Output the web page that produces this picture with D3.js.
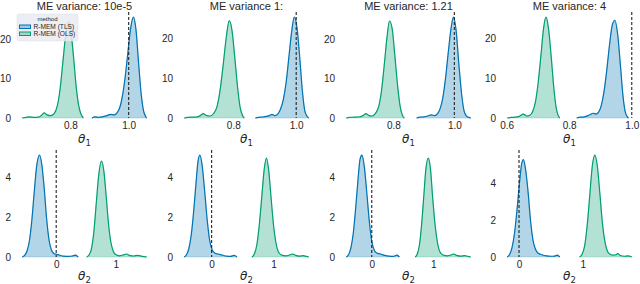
<!DOCTYPE html>
<html>
<head>
<meta charset="utf-8">
<style>
  body { margin: 0; background: #fff; }
  text { font-family: "Liberation Sans", Arial, sans-serif; fill: #262626; }
</style>
</head>
<body>
<div id="chart"></div>

<script src="https://cdn.jsdelivr.net/npm/d3@7"></script>
<script>
// panel titles and true parameter values
var titles = ["ME variance: 10e-5", "ME variance 1:", "ME variance: 1.21", "ME variance: 4"]
var methods = ["R-MEM (TLS)", "R-MEM (OLS)"]
var trueTheta = [1.0, 0.0]
var xTicksTop = [[0.8, 1.0], [0.8, 1.0], [0.8, 1.0], [0.6, 0.8, 1.0]]
var xTicksBottom = [0, 1]
var yTicksTop = [0, 10, 20]
var yTicksBottom = [0, 2, 4]

// density curves: [theta, density]
// theta_1, TLS
var tls1_a = [[0.874,0],[0.885,0.3],[0.897,0.15],[0.91,0.3],[0.925,0.6],[0.938,0.9],[0.95,0.8],[0.96,1.3],[0.97,2.8],[0.979,5.8],[0.988,10.5],[0.997,16.5],[1.006,22.5],[1.016,25.7],[1.025,22.5],[1.034,14],[1.043,6],[1.051,1.8],[1.058,0.4],[1.062,0]]
var tls1_b = [[0.87,0],[0.88,0.15],[0.893,0.25],[0.905,0.4],[0.915,0.6],[0.923,0.9],[0.932,0.6],[0.941,1],[0.95,2.2],[0.959,4.6],[0.968,9],[0.977,15.5],[0.986,22],[0.994,25.4],[1.003,22.5],[1.012,14.5],[1.02,6.5],[1.027,2],[1.034,0.5],[1.04,0]]
var tls1_c = [[0.876,0],[0.888,0.2],[0.9,0.3],[0.912,0.5],[0.924,0.8],[0.935,0.6],[0.945,1.1],[0.953,2.3],[0.962,5],[0.971,10],[0.98,16.5],[0.989,22.5],[0.997,25.5],[1.006,22],[1.015,13.5],[1.024,6],[1.032,1.8],[1.04,0.5],[1.047,0.15],[1.054,0]]
var tls1_d = [[0.824,0],[0.836,0.2],[0.848,0.3],[0.86,0.6],[0.868,0.9],[0.876,1.2],[0.885,1.0],[0.894,1.5],[0.902,3],[0.911,6.5],[0.92,12],[0.929,18.5],[0.938,23.5],[0.946,24.6],[0.955,21],[0.964,13],[0.972,5.5],[0.979,1.6],[0.985,0.4],[0.99,0]]
// theta_1, OLS
var ols1_a = [[0.635,0],[0.648,0.15],[0.66,0.3],[0.675,0.15],[0.69,0.2],[0.70,0.6],[0.71,1.3],[0.72,0.8],[0.732,0.6],[0.745,1.2],[0.755,3],[0.765,7.5],[0.774,14],[0.783,20.5],[0.793,24.5],[0.802,22],[0.811,15.5],[0.82,8],[0.829,3],[0.837,0.9],[0.845,0]]
var ols1_b = [[0.644,0],[0.655,0.15],[0.668,0.2],[0.68,0.2],[0.695,0.6],[0.704,1.1],[0.713,0.7],[0.725,0.5],[0.738,1.2],[0.748,2.8],[0.758,7],[0.768,13.5],[0.778,20.5],[0.787,24.5],[0.796,22],[0.805,15],[0.814,7.5],[0.822,2.6],[0.829,0.7],[0.835,0]]
var ols1_c = [[0.645,0],[0.656,0.15],[0.67,0.2],[0.685,0.25],[0.70,0.6],[0.71,1.1],[0.72,0.6],[0.73,0.5],[0.742,1.3],[0.752,3],[0.761,7],[0.77,13.5],[0.779,20.5],[0.787,24.5],[0.796,22.5],[0.805,15.5],[0.814,8],[0.822,3],[0.829,0.8],[0.836,0]]
var ols1_d = [[0.602,0],[0.615,0.15],[0.628,0.2],[0.64,0.4],[0.654,1.0],[0.664,0.5],[0.674,0.7],[0.683,1.6],[0.692,4],[0.701,9],[0.71,16],[0.718,22.5],[0.726,25.4],[0.734,22.5],[0.743,15],[0.751,7.5],[0.758,2.8],[0.764,0.8],[0.77,0]]
// theta_2, TLS
var tls2_a = [[-0.57,0],[-0.53,0.08],[-0.49,0.3],[-0.45,0.8],[-0.41,1.8],[-0.37,3.2],[-0.33,4.5],[-0.28,5.1],[-0.24,4.6],[-0.20,3.4],[-0.16,1.9],[-0.12,0.85],[-0.08,0.35],[-0.04,0.18],[0.0,0.14],[0.05,0.1],[0.12,0.04],[0.2,0.03],[0.27,0.05],[0.32,0.09],[0.37,0]]
var tls2_b = [[-0.443,0],[-0.41,0.1],[-0.37,0.4],[-0.33,1.1],[-0.29,2.3],[-0.25,3.8],[-0.22,4.8],[-0.19,5.1],[-0.15,4.5],[-0.11,3.2],[-0.07,1.8],[-0.03,0.8],[0.01,0.35],[0.05,0.2],[0.1,0.15],[0.17,0.1],[0.24,0.04],[0.31,0.03],[0.36,0.08],[0.41,0]]
var tls2_c = [[-0.415,0],[-0.38,0.1],[-0.34,0.45],[-0.30,1.2],[-0.26,2.5],[-0.22,4.0],[-0.19,4.9],[-0.16,5.1],[-0.12,4.5],[-0.08,3.2],[-0.04,1.8],[0.0,0.8],[0.04,0.35],[0.08,0.2],[0.14,0.15],[0.21,0.08],[0.28,0.04],[0.35,0.03],[0.41,0.09],[0.45,0]]
var tls2_d = [[-0.185,0],[-0.15,0.12],[-0.11,0.5],[-0.07,1.3],[-0.03,2.6],[0.01,4.1],[0.04,5.0],[0.068,5.26],[0.1,4.8],[0.14,3.6],[0.18,2.0],[0.22,0.9],[0.26,0.4],[0.3,0.2],[0.36,0.12],[0.43,0.06],[0.5,0.04],[0.56,0.05],[0.6,0.1],[0.64,0]]
// theta_2, OLS
var ols2_a = [[0.51,0],[0.55,0.1],[0.59,0.4],[0.63,1.2],[0.67,2.6],[0.71,4.0],[0.76,4.8],[0.80,4.3],[0.84,3.0],[0.88,1.6],[0.92,0.7],[0.96,0.28],[1.0,0.12],[1.06,0.06],[1.12,0.1],[1.18,0.15],[1.23,0.08],[1.3,0.05],[1.37,0.08],[1.44,0.03],[1.52,0]]
var ols2_b = [[0.65,0],[0.69,0.15],[0.73,0.6],[0.77,1.6],[0.81,3.0],[0.85,4.4],[0.885,4.95],[0.92,4.4],[0.96,3.0],[1.0,1.6],[1.04,0.7],[1.08,0.25],[1.13,0.1],[1.2,0.06],[1.26,0.1],[1.31,0.15],[1.36,0.08],[1.42,0.04],[1.48,0.07],[1.53,0.03],[1.57,0]]
var ols2_c = [[0.705,0],[0.74,0.15],[0.775,0.6],[0.81,1.6],[0.845,3.0],[0.88,4.4],[0.92,4.95],[0.955,4.4],[0.99,3.0],[1.03,1.6],[1.07,0.7],[1.11,0.25],[1.16,0.1],[1.23,0.06],[1.29,0.1],[1.33,0.15],[1.38,0.08],[1.45,0.04],[1.51,0.07],[1.56,0.03],[1.61,0]]
var ols2_d = [[0.95,0],[0.99,0.15],[1.03,0.6],[1.07,1.7],[1.11,3.3],[1.15,4.9],[1.19,5.5],[1.23,4.9],[1.27,3.4],[1.31,1.8],[1.35,0.8],[1.39,0.3],[1.43,0.15],[1.48,0.1],[1.52,0.12],[1.55,0.18],[1.59,0.08],[1.65,0.04],[1.71,0.06],[1.77,0]]

var tlsRows = [[tls1_a, tls1_b, tls1_c, tls1_d], [tls2_a, tls2_b, tls2_c, tls2_d]]
var olsRows = [[ols1_a, ols1_b, ols1_c, ols1_d], [ols2_a, ols2_b, ols2_c, ols2_d]]

var colors = ["#0173b2", "#029e73"]

var width = 640, height = 284
var colLeft = [16, 178, 340, 501], colW = 137
var rows = [{top: 12, bottom: 118, lab: 25}, {top: 150, bottom: 257, lab: 23}]

var svg = d3.select("#chart").append("svg")
  .attr("width", width).attr("height", height)

function drawKde(g, data, x, y, color) {
  var area = d3.area().x(d => x(d[0])).y0(y(0)).y1(d => y(d[1])).curve(d3.curveMonotoneX)
  var line = d3.line().x(d => x(d[0])).y(d => y(d[1])).curve(d3.curveMonotoneX)
  g.append("path").datum(data)
    .attr("d", area)
    .attr("fill", color).attr("fill-opacity", 0.3)
    .attr("stroke", color).attr("stroke-opacity", 0.2).attr("stroke-width", 1)
  g.append("path").datum(data)
    .attr("d", line)
    .attr("fill", "none").attr("stroke", color).attr("stroke-width", 1.2)
}

function drawPanel(r, c) {
  var tls = tlsRows[r][c], ols = olsRows[r][c]
  var pLeft = colLeft[c], pTop = rows[r].top, pBottom = rows[r].bottom

  // matplotlib-like autoscale: data extent (incl. true value) + 5% margins
  var xs = tls.concat(ols).map(d => d[0]).concat([trueTheta[r]])
  var ext = d3.extent(xs), pad = (ext[1] - ext[0]) * 0.05
  var x = d3.scaleLinear().domain([ext[0] - pad, ext[1] + pad]).range([pLeft, pLeft + colW])
  var ymax = d3.max(tls.concat(ols), d => d[1]) * 1.05
  var y = d3.scaleLinear().domain([0, ymax]).range([pBottom, pTop])

  var g = svg.append("g")

  drawKde(g, tls, x, y, colors[0])
  drawKde(g, ols, x, y, colors[1])

  // true value
  g.append("line")
    .attr("x1", x(trueTheta[r])).attr("x2", x(trueTheta[r]))
    .attr("y1", pTop).attr("y2", pBottom)
    .attr("stroke", "#222").attr("stroke-width", 1.1).attr("stroke-dasharray", "3,2")

  // axes
  var xAxis = d3.axisBottom(x).tickSize(0).tickPadding(4)
  if (r == 0) xAxis.tickValues(xTicksTop[c]).tickFormat(d3.format(".1f"))
  else xAxis.tickValues(xTicksBottom).tickFormat(d3.format("d"))
  var gx = g.append("g").attr("transform", "translate(0," + pBottom + ")").call(xAxis)
  var yAxis = d3.axisLeft(y).tickSize(0).tickPadding(5)
    .tickValues(r == 0 ? yTicksTop : yTicksBottom).tickFormat(d3.format("d"))
  var gy = g.append("g").attr("transform", "translate(" + pLeft + ",0)").call(yAxis)
  ;[gx, gy].forEach(function(a) {
    a.select(".domain").remove()
    a.attr("font-family", "Liberation Sans, Arial, sans-serif").attr("font-size", 10).style("color", "#262626")
  })

  // axis label theta_1 / theta_2
  var lab = g.append("text")
    .attr("x", pLeft + colW / 2).attr("y", pBottom + rows[r].lab)
    .attr("text-anchor", "middle")
    .style("font-family", "DejaVu Sans").style("font-size", "12px")
  lab.append("tspan").style("font-style", "italic").text("θ")
  lab.append("tspan").attr("dy", 3).style("font-size", "8.5px").text(r == 0 ? "1" : "2")

  if (r == 0) {
    g.append("text")
      .attr("x", pLeft + colW / 2).attr("y", 10)
      .attr("text-anchor", "middle")
      .style("font-size", "11px")
      .text(titles[c])
  }
}

for (var r = 0; r < 2; r++) {
  for (var c = 0; c < 4; c++) drawPanel(r, c)
}

// legend in first panel
var leg = svg.append("g").attr("transform", "translate(17,14)")
leg.append("rect")
  .attr("width", 61).attr("height", 27).attr("rx", 2)
  .attr("fill", "#eaeaf2").attr("fill-opacity", 0.85)
  .attr("stroke", "#dcdce4").attr("stroke-width", 0.5)
leg.append("text").attr("x", 30.5).attr("y", 7).attr("text-anchor", "middle")
  .style("font-size", "6px").text("method")
methods.forEach(function(m, i) {
  leg.append("rect")
    .attr("x", 2.5).attr("y", 11 + i * 7).attr("width", 11).attr("height", 3.5)
    .attr("fill", colors[i]).attr("fill-opacity", 0.3)
    .attr("stroke", colors[i]).attr("stroke-width", 1)
  leg.append("text").attr("x", 16.5).attr("y", 15.3 + i * 7)
    .style("font-size", "6.6px").text(m)
})
</script>
</body>
</html>
